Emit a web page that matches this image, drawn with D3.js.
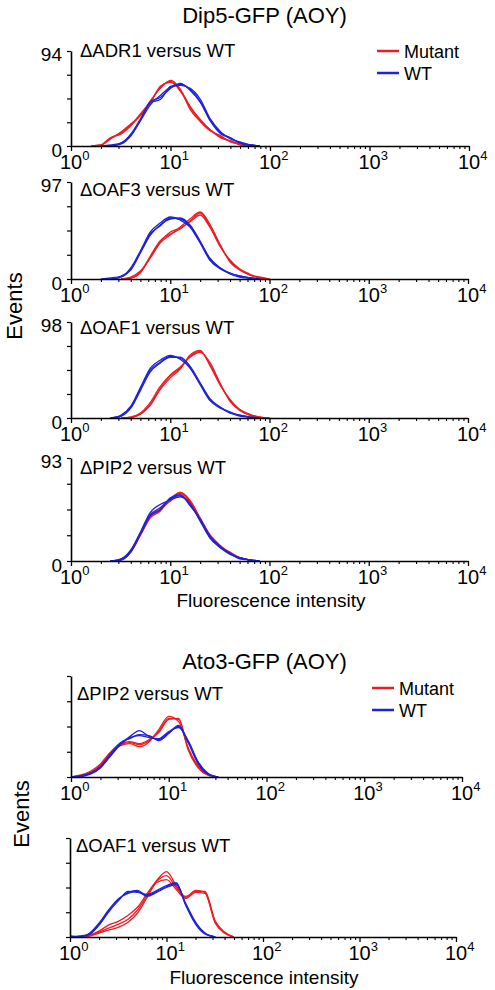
<!DOCTYPE html>
<html><head><meta charset="utf-8">
<script src="https://cdn.jsdelivr.net/npm/d3@7"></script>
<style>
html,body{margin:0;padding:0;background:#fff;}
svg{display:block;font-family:"Liberation Sans",Arial,Helvetica,sans-serif;}
</style></head>
<body>
<svg id="chart" width="495" height="990"></svg>
<script>
// ---------------- DATA ----------------
const titles = ["Dip5-GFP (AOY)", "Ato3-GFP (AOY)"];
const seriesNames = ["Mutant", "WT"];
const xTickValues = [1, 10, 100, 1000, 10000];
const xTickExponents = ["0", "1", "2", "3", "4"];
const panelLabels = ["\u0394ADR1 versus WT", "\u0394OAF3 versus WT", "\u0394OAF1 versus WT", "\u0394PIP2 versus WT", "\u0394PIP2 versus WT", "\u0394OAF1 versus WT"];
const yMaxLabels = [94, 97, 98, 93, null, null];

// fluorescence bin centres (log-spaced)
const binsTop = [1.6, 2.0, 2.5, 3.2, 4.0, 5.0, 6.3, 7.9, 10, 12.6, 15.8, 20, 25, 32, 40, 50, 63, 79, 100];
const binsBottom = [1.0, 1.26, 1.6, 2.0, 2.5, 3.2, 4.0, 5.0, 6.3, 7.9, 10, 12.6, 15.8, 20, 25, 32, 40, 50];

// Dip5 ΔADR1
const adr1Mutant = [
  [0,1,8,13,21,32,44,58,64,54,38,25,16,9,5,2,0,0,0],
  [0,1,7,14,22,30,45,57,65,56,36,24,15,10,4,2,1,0,0],
  [0,0,8,12,20,31,43,59,63,55,39,26,16,8,5,1,0,0,0]];
const adr1WT = [
  [0,0,0,3,11,26,43,46,59,61,56,44,26,13,8,3,1,0,0],
  [0,0,0,2,10,25,41,50,58,60,57,46,27,14,7,4,1,0,0],
  [0,0,1,3,12,27,44,48,57,62,55,43,25,12,8,3,1,0,0]];
// Dip5 ΔOAF3
const oaf3Mutant = [
  [0,0,0,0,1,7,23,38,45,50,58,66,53,33,18,10,4,1,0],
  [0,0,0,0,2,8,21,36,44,52,60,67,55,34,17,9,4,2,0],
  [0,0,0,0,1,6,22,37,47,51,57,64,52,32,19,10,5,1,0]];
const oaf3WT = [
  [0,0,0,2,10,27,45,53,61,60,53,37,20,11,6,3,1,0,0],
  [0,0,0,2,11,28,47,56,62,59,52,36,19,10,6,3,1,0,0],
  [0,0,1,3,9,26,44,54,60,61,54,38,21,11,5,2,1,0,0]];
// Dip5 ΔOAF1
const oaf1Mutant = [
  [0,0,0,0,1,4,14,30,43,51,63,68,55,34,18,8,3,1,0],
  [0,0,0,0,1,5,16,32,44,52,62,67,57,35,17,8,3,1,0],
  [0,0,0,0,0,4,13,29,41,50,64,69,54,33,19,9,4,1,0]];
const oaf1WT = [
  [0,0,0,2,11,30,49,57,63,61,52,35,19,11,6,3,1,0,0],
  [0,0,0,3,12,31,51,59,64,60,51,34,18,10,6,2,1,0,0],
  [0,0,0,2,10,28,47,56,62,62,53,36,20,11,5,3,1,0,0]];
// Dip5 ΔPIP2
const pip2Mutant = [
  [0,0,0,1,9,24,40,46,55,62,54,38,23,13,7,3,1,0,0],
  [0,0,0,1,8,23,39,45,56,62,55,39,24,14,7,3,1,0,0],
  [0,0,0,2,9,25,41,47,54,61,53,37,22,13,8,3,1,0,0]];
const pip2WT = [
  [0,0,0,1,9,25,42,48,56,59,51,37,22,12,7,3,1,0,0],
  [0,0,0,2,10,26,44,51,55,58,52,36,21,12,6,3,1,0,0],
  [0,0,0,1,8,24,41,46,57,60,50,38,23,13,7,2,1,0,0]];
// Ato3 ΔPIP2
const atoPip2Mutant = [
  [0,1,5,12,23,32,34,32,36,45,58,57,28,10,2,0,0,0],
  [0,1,4,11,22,31,33,30,35,47,60,55,29,11,3,0,0,0],
  [0,2,6,13,24,33,35,33,37,44,57,58,27,9,2,0,0,0]];
const atoPip2WT = [
  [0,1,4,10,21,33,40,46,40,37,44,50,35,14,3,0,0,0],
  [0,0,3,9,20,32,39,41,39,38,45,49,36,15,4,0,0,0],
  [0,1,4,10,22,34,38,42,41,36,43,51,34,13,3,0,0,0]];
// Ato3 ΔOAF1
const atoOaf1Mutant = [
  [1,0,2,6,12,16,22,30,44,57,66,52,40,47,45,15,4,0],
  [1,0,2,5,9,13,18,27,42,56,62,50,41,46,46,16,5,0],
  [0,0,1,4,7,10,15,24,40,55,58,48,39,45,44,14,4,0]];
const atoOaf1WT = [
  [0,0,3,13,26,38,45,47,42,46,51,54,33,14,4,0,0,0],
  [0,1,3,12,25,37,46,45,43,47,52,55,32,13,3,0,0,0],
  [0,0,4,14,27,39,44,46,41,45,50,53,34,15,4,0,0,0]];

// ---------------- LAYOUT ----------------
const colors = {Mutant: "#ec1c24", WT: "#1e22d8"};
const panels = [
  {bins: binsTop, mut: adr1Mutant, wt: adr1WT, yMax: 94, x0: 71, x1: 469, top: 51, base: 146, labelY: 57},
  {bins: binsTop, mut: oaf3Mutant, wt: oaf3WT, yMax: 97, x0: 71, x1: 468, top: 182, base: 279, labelY: 196},
  {bins: binsTop, mut: oaf1Mutant, wt: oaf1WT, yMax: 98, x0: 71, x1: 468, top: 322, base: 418, labelY: 334},
  {bins: binsTop, mut: pip2Mutant, wt: pip2WT, yMax: 93, x0: 71, x1: 468, top: 458, base: 561, labelY: 474},
  {bins: binsBottom, mut: atoPip2Mutant, wt: atoPip2WT, yMax: 100, x0: 71, x1: 462, top: 676, base: 777, labelY: 700},
  {bins: binsBottom, mut: atoOaf1Mutant, wt: atoOaf1WT, yMax: 100, x0: 70, x1: 456, top: 838, base: 937, labelY: 852}
];

const svg = d3.select("#chart");
const FONT_TICK = 20, FONT_SUP = 13;

const minorTicks = [];
for (let e = 0; e < 4; e++) for (let m = 2; m <= 9; m++) minorTicks.push(m * Math.pow(10, e));

panels.forEach((p, i) => {
  const x = d3.scaleLog().domain([1, 10000]).range([p.x0, p.x1]);
  const y = d3.scaleLinear().domain([0, p.yMax]).range([p.base, p.top]);
  const g = svg.append("g");

  [["Mutant", p.mut], ["WT", p.wt]].forEach(([name, reps]) => {
    reps.forEach(rep => {
      // draw only where the histogram has events (trim empty leading/trailing bins)
      const line = d3.line()
        .defined((d, k) => d > 0 || (k > 0 && rep[k - 1] > 0) || (k < rep.length - 1 && rep[k + 1] > 0))
        .x((d, k) => x(p.bins[k]))
        .y(d => y(d))
        .curve(d3.curveMonotoneX);
      g.append("path")
        .attr("d", line(rep))
        .attr("fill", "none")
        .attr("stroke", colors[name])
        .attr("stroke-width", 1.3)
        .attr("stroke-linejoin", "round");
    });
  });

  // x axis: major ticks
  const ax = g.append("g").attr("transform", `translate(0,${p.base})`)
    .call(d3.axisBottom(x).tickValues(xTickValues).tickFormat("").tickSizeInner(5).tickSizeOuter(0));
  ax.select(".domain").attr("stroke-width", 1.6);
  ax.selectAll(".tick line").attr("stroke-width", 1.3);
  // minor ticks
  const axm = g.append("g").attr("transform", `translate(0,${p.base})`)
    .call(d3.axisBottom(x).tickValues(minorTicks).tickFormat("").tickSizeInner(3).tickSizeOuter(0));
  axm.select(".domain").remove();
  axm.selectAll(".tick line").attr("stroke-width", 1.1);

  // x tick labels 10^n
  xTickValues.forEach((v, k) => {
    const t = g.append("text")
      .attr("x", x(v) - 11).attr("y", p.base + 23)
      .attr("font-size", FONT_TICK).attr("fill", "#000");
    t.append("tspan").text("10");
    t.append("tspan").attr("font-size", FONT_SUP).attr("dy", -9).text(xTickExponents[k]);
  });

  // y axis
  const ay = g.append("g").attr("transform", `translate(${p.x0},0)`)
    .call(d3.axisLeft(y).tickValues([0, p.yMax / 4, p.yMax / 2, 3 * p.yMax / 4, p.yMax]).tickFormat("").tickSizeInner(4).tickSizeOuter(0));
  ay.select(".domain").attr("stroke-width", 1.6);
  ay.selectAll(".tick line").attr("stroke-width", 1.2);

  if (yMaxLabels[i] !== null) {
    g.append("text").attr("x", 62).attr("y", y(p.yMax) + 10).attr("text-anchor", "end")
      .attr("font-size", 19).text(yMaxLabels[i]);
    g.append("text").attr("x", 62).attr("y", y(0) + 11).attr("text-anchor", "end")
      .attr("font-size", 19).text("0");
  }

  g.append("text").attr("x", p.x0 + (i < 4 ? 9 : 6)).attr("y", p.labelY)
    .attr("font-size", 18.5).text(panelLabels[i]);
});

// titles
svg.append("text").attr("x", 264.5).attr("y", 23).attr("text-anchor", "middle").attr("font-size", 22).text(titles[0]);
svg.append("text").attr("x", 264.5).attr("y", 669).attr("text-anchor", "middle").attr("font-size", 22).text(titles[1]);

// Events labels
[[22, 306], [29, 814]].forEach(([lx, ly]) => {
  svg.append("text").attr("transform", `translate(${lx},${ly}) rotate(-90)`)
    .attr("text-anchor", "middle").attr("font-size", 22).text("Events");
});

// x axis titles
svg.append("text").attr("x", 271).attr("y", 607).attr("text-anchor", "middle").attr("font-size", 19).text("Fluorescence intensity");
svg.append("text").attr("x", 264).attr("y", 984).attr("text-anchor", "middle").attr("font-size", 19).text("Fluorescence intensity");

// legends
[{x: 377, y: 51}, {x: 372, y: 688}].forEach(L => {
  seriesNames.forEach((name, k) => {
    const yy = L.y + k * 22;
    svg.append("line").attr("x1", L.x).attr("x2", L.x + 22).attr("y1", yy).attr("y2", yy)
      .attr("stroke", colors[name]).attr("stroke-width", 2.5);
    svg.append("text").attr("x", L.x + 27).attr("y", yy + 6.5).attr("font-size", 18).text(name);
  });
});
</script>
</body></html>
